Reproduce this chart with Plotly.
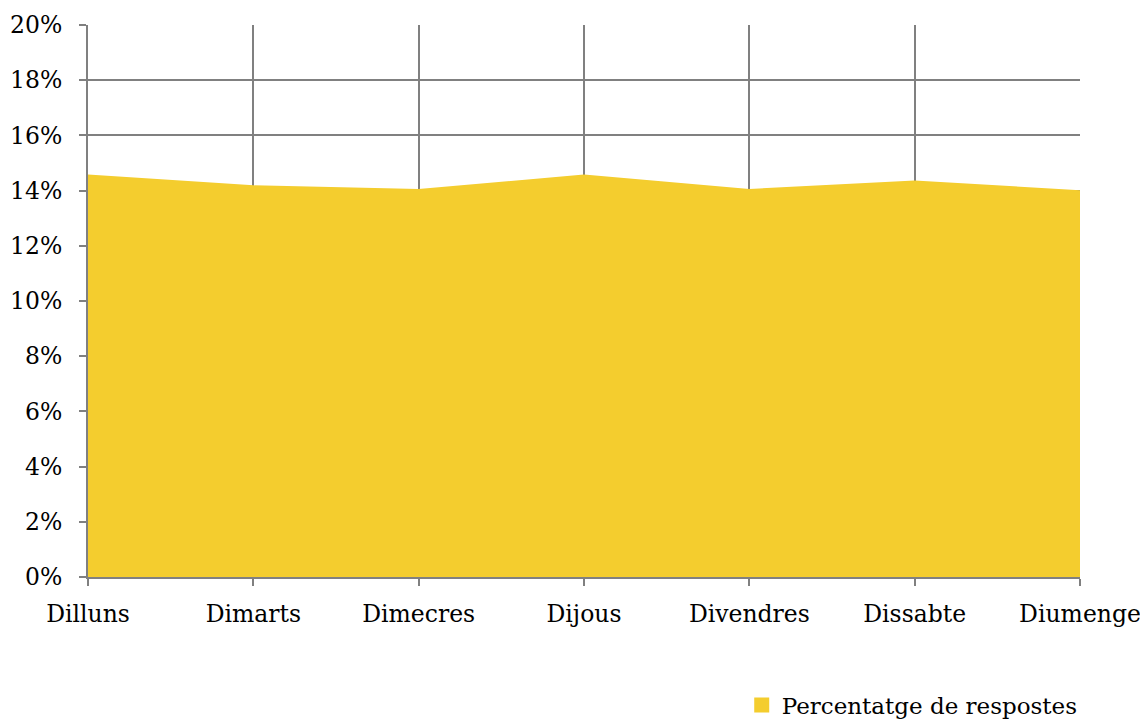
import plotly.graph_objects as go

days = ["Dilluns", "Dimarts", "Dimecres", "Dijous", "Divendres", "Dissabte", "Diumenge"]
percent = [0.1458, 0.1419, 0.1406, 0.1458, 0.1406, 0.1437, 0.1401]
series_name = "Percentatge de respostes"

FILL = "#F4CD2E"
GRID = "#808080"
FONT = dict(family="DejaVu Serif", size=23.5, color="#000000")

fig = go.Figure()
fig.add_trace(go.Scatter(
    x=days, y=percent, name=series_name,
    mode="none",
    fill="tozeroy", fillcolor=FILL,
    showlegend=False,
))
# legend swatch (square marker)
fig.add_trace(go.Scatter(
    x=[None], y=[None], name=series_name,
    mode="markers", marker=dict(symbol="square", size=15, color=FILL),
    showlegend=True,
))

# page body has an 8px margin: figure size/margins compensate so the plot area
# lands at x 88..1080, y 25..577 in the 1148x722 window
fig.update_layout(
    width=1140, height=714,
    margin=dict(l=80, r=68, t=17, b=145, autoexpand=False),
    paper_bgcolor="white", plot_bgcolor="white",
    font=FONT,
    showlegend=True,
    legend=dict(orientation="h", x=0.659, xanchor="left", y=-0.232, yanchor="middle",
                font=dict(family="DejaVu Serif", size=23, color="#000000"),
                itemwidth=30, bgcolor="rgba(0,0,0,0)"),
)
fig.update_xaxes(
    type="category", range=[0, 6], automargin=False,
    showgrid=True, gridcolor=GRID, gridwidth=2,
    showline=True, linecolor=GRID, linewidth=2,
    ticks="outside", ticklen=7, tickwidth=2, tickcolor=GRID,
    tickfont=FONT, zeroline=False, ticklabelstandoff=8,
)
fig.update_yaxes(
    range=[0, 0.2], dtick=0.02, tickformat=".0%", automargin=False,
    showgrid=True, gridcolor=GRID, gridwidth=2,
    showline=True, linecolor=GRID, linewidth=2,
    ticks="outside", ticklen=7, tickwidth=2, tickcolor=GRID,
    tickfont=FONT, zeroline=False, ticklabelstandoff=12,
)
fig.write_html("out.html")
